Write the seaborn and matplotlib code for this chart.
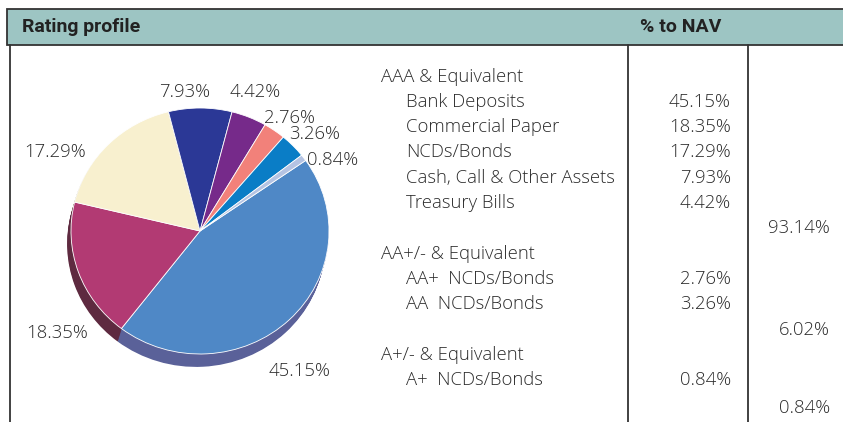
import matplotlib
matplotlib.use("Agg")
import matplotlib.pyplot as plt
import seaborn as sns
from matplotlib.patches import Rectangle

# ---- data ----
instruments = ["Bank Deposits", "Commercial Paper", "NCDs/Bonds",
               "Cash, Call & Other Assets", "Treasury Bills",
               "AA+  NCDs/Bonds", "AA  NCDs/Bonds", "A+  NCDs/Bonds"]
shares = [45.15, 18.35, 17.29, 7.93, 4.42, 2.76, 3.26, 0.84]
groups = ["AAA & Equivalent", "AA+/- & Equivalent", "A+/- & Equivalent"]
group_members = [[0, 1, 2, 3, 4], [5, 6], [7]]
group_totals = [93.14, 6.02, 0.84]

# ---- styles ----
top_colors = ["#4F88C6", "#B23A73", "#F8F0CF", "#2B3896",
              "#762A8A", "#F2817A", "#0A7DC6", "#B4C3E3"]
side_colors = ["#5A6199", "#5E2A40", "#8C8563", "#1E2766",
               "#4A1A58", "#9A4F4A", "#0A4F80", "#7080A0"]
# label offsets from pie centre, in radius units
label_offsets = [(0.77, -1.13), (-1.11, -0.82), (-1.12, 0.65), (-0.12, 1.14),
                 (0.43, 1.14), (0.69, 0.93), (0.89, 0.80), (1.03, 0.59)]

sns.set_theme(style="white")
plt.rcParams["font.family"] = ["Open Sans", "DejaVu Sans"]

W, H = 843, 422
fig = plt.figure(figsize=(W / 100, H / 100), dpi=100)
fig.patch.set_facecolor("white")

# frame / table in pixel coordinates
bg = fig.add_axes([0, 0, 1, 1])
bg.set_xlim(0, W)
bg.set_ylim(H, 0)
bg.axis("off")

bg.add_patch(Rectangle((7, 9), W, 36, facecolor="#9DC5C3", edgecolor="#333333", lw=1.3))
head = dict(fontsize=14, fontweight="semibold", family="Roboto", color="#222222", va="center")
bg.text(22, 27.5, "Rating profile", **head)
bg.text(640, 27.5, "% to NAV", **head)
for x in (10, 628, 748):
    bg.plot([x, x], [45, H], color="#333333", lw=1.3)

txt = dict(fontsize=13.3, fontweight="light", color="#2b2b2b", va="center")
row_y, step = 76.5, 25.3
for g, name in enumerate(groups):
    bg.text(381, row_y, name, ha="left", **txt)
    row_y += step
    for i in group_members[g]:
        bg.text(406, row_y, instruments[i], ha="left", **txt)
        bg.text(731, row_y, f"{shares[i]:.2f}%", ha="right", **txt)
        row_y += step
    bg.text(830, row_y + (3 if g == 2 else 0), f"{group_totals[g]:.2f}%", ha="right", **txt)
    row_y += step

# ---- pie with extruded side ----
cx, cy, rx, ry, lim = 200, 231, 129, 123, 1.5
ax = fig.add_axes([(cx - lim * rx) / W, (H - cy - lim * ry) / H,
                   2 * lim * rx / W, 2 * lim * ry / H])
steps = 14
for k in range(steps, 0, -1):
    f = k / steps
    ax.pie(shares, colors=side_colors, startangle=35, counterclock=False,
           center=(-0.03 * f, -0.105 * f), wedgeprops=dict(linewidth=0))
wedges, labels = ax.pie(shares, colors=top_colors, startangle=35, counterclock=False,
                        labels=[f"{v:.2f}%" for v in shares],
                        wedgeprops=dict(edgecolor="white", linewidth=0.6),
                        textprops=txt)
for t, (lx, ly) in zip(labels, label_offsets):
    t.set_position((lx, ly - 0.01))
    t.set_ha("center")
ax.set_aspect("auto")
ax.set_xlim(-lim, lim)
ax.set_ylim(-lim, lim)
ax.axis("off")

fig.savefig("out.png", dpi=100, facecolor="white")
